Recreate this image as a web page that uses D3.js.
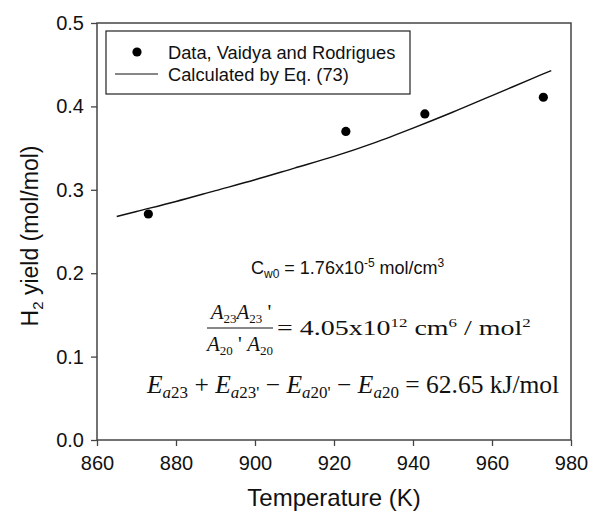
<!DOCTYPE html>
<html>
<head>
<meta charset="utf-8">
<script src="https://cdn.jsdelivr.net/npm/d3@7"></script>
<style>
  body { margin: 0; background: #fff; }
  svg text { fill: #111; }
</style>
</head>
<body>
<div id="vis"></div>
<script>
// measured data (Vaidya and Rodrigues)
const dataTemp = [873, 923, 943, 973];
const dataYield = [0.271, 0.370, 0.391, 0.411];

// calculated curve, Eq. (73)
const calcTemp = [865, 870, 880, 890, 900, 910, 920, 930, 940, 950, 960, 970, 975];
const calcYield = [0.268, 0.274, 0.286, 0.299, 0.312, 0.326, 0.340, 0.356, 0.374, 0.393, 0.413, 0.433, 0.443];

const xTicks = [860, 880, 900, 920, 940, 960, 980];
const yTicks = [0.0, 0.1, 0.2, 0.3, 0.4, 0.5];

const width = 590;
const height = 517;
const margin = { top: 23, right: 19, bottom: 77, left: 97 };

const sans = "Liberation Sans, Arial, sans-serif";
const serif = "Liberation Serif, Times New Roman, serif";

const svg = d3.select("#vis").append("svg")
  .attr("width", width)
  .attr("height", height);

const x = d3.scaleLinear().domain([860, 980]).range([margin.left, width - margin.right]);
const y = d3.scaleLinear().domain([0, 0.5]).range([height - margin.bottom, margin.top]);

const axisColour = "#444";

// frame
svg.append("rect")
  .attr("x", x(860))
  .attr("y", y(0.5))
  .attr("width", x(980) - x(860))
  .attr("height", y(0) - y(0.5))
  .attr("fill", "none")
  .attr("stroke", axisColour)
  .attr("stroke-width", 1.5);

// axes
const xAxis = svg.append("g")
  .attr("transform", `translate(0,${y(0)})`)
  .call(d3.axisBottom(x).tickValues(xTicks).tickSize(6).tickPadding(7).tickFormat(d3.format("d")));
const yAxis = svg.append("g")
  .attr("transform", `translate(${x(860)},0)`)
  .call(d3.axisLeft(y).tickValues(yTicks).tickSize(6).tickPadding(7).tickFormat(d3.format(".1f")));

[xAxis, yAxis].forEach(g => {
  g.select(".domain").remove();
  g.selectAll(".tick line").attr("stroke", axisColour).attr("stroke-width", 1.3);
  g.selectAll(".tick text")
    .style("font-family", sans)
    .style("font-size", "20px")
    .attr("fill", "#111");
});
xAxis.selectAll(".tick text").attr("dy", "0.85em");

// axis titles
svg.append("text")
  .attr("x", (x(860) + x(980)) / 2)
  .attr("y", 506)
  .attr("text-anchor", "middle")
  .style("font-family", sans)
  .style("font-size", "24px")
  .text("Temperature (K)");

const yTitle = svg.append("text")
  .attr("transform", `translate(38,236) rotate(-90)`)
  .attr("text-anchor", "middle")
  .style("font-family", sans)
  .style("font-size", "23px");
yTitle.append("tspan").text("H");
yTitle.append("tspan").attr("dy", 5).style("font-size", "15px").text("2");
yTitle.append("tspan").attr("dy", -5).text(" yield (mol/mol)");

// calculated line
const line = d3.line()
  .x((d, i) => x(calcTemp[i]))
  .y(d => y(d))
  .curve(d3.curveMonotoneX);

svg.append("path")
  .datum(calcYield)
  .attr("d", line)
  .attr("fill", "none")
  .attr("stroke", "#111")
  .attr("stroke-width", 1.4);

// data points
svg.selectAll(".pt")
  .data(dataYield)
  .enter()
  .append("circle")
  .attr("class", "pt")
  .attr("cx", (d, i) => x(dataTemp[i]))
  .attr("cy", d => y(d))
  .attr("r", 4.6)
  .attr("fill", "#000");

// legend
const legend = svg.append("g");
legend.append("rect")
  .attr("x", 106)
  .attr("y", 31)
  .attr("width", 304)
  .attr("height", 63)
  .attr("fill", "#fff")
  .attr("stroke", "#222")
  .attr("stroke-width", 1.2);
legend.append("circle").attr("cx", 137).attr("cy", 52).attr("r", 4.6).attr("fill", "#000");
legend.append("line")
  .attr("x1", 115).attr("x2", 158).attr("y1", 74).attr("y2", 74)
  .attr("stroke", "#111").attr("stroke-width", 1.2);
legend.append("text").attr("x", 168).attr("y", 58.5)
  .style("font-family", sans).style("font-size", "18.3px")
  .text("Data, Vaidya and Rodrigues");
legend.append("text").attr("x", 168).attr("y", 80.5)
  .style("font-family", sans).style("font-size", "18.3px")
  .text("Calculated by Eq. (73)");

// annotation: Cw0
const c = svg.append("text")
  .attr("x", 251).attr("y", 274)
  .style("font-family", sans)
  .style("font-size", "18px");
c.append("tspan").text("C");
c.append("tspan").attr("dy", 4).style("font-size", "12px").text("w0");
c.append("tspan").attr("dy", -4).text(" = 1.76x10");
c.append("tspan").attr("dy", -7).style("font-size", "12px").text("-5");
c.append("tspan").attr("dy", 7).text(" mol/cm");
c.append("tspan").attr("dy", -7).style("font-size", "12px").text("3");

// annotation: fraction
const num = svg.append("text").attr("x", 241).attr("y", 319).attr("text-anchor", "middle")
  .style("font-family", serif).style("font-size", "21px").style("font-style", "italic");
num.append("tspan").text("A");
num.append("tspan").attr("dy", 4).style("font-size", "13px").style("font-style", "normal").text("23");
num.append("tspan").attr("dy", -4).text("A");
num.append("tspan").attr("dy", 4).style("font-size", "13px").style("font-style", "normal").text("23");
num.append("tspan").attr("dy", -4).style("font-style", "normal").text(" '");

svg.append("line").attr("x1", 207).attr("x2", 273).attr("y1", 328).attr("y2", 328)
  .attr("stroke", "#111").attr("stroke-width", 1);

const den = svg.append("text").attr("x", 240).attr("y", 351).attr("text-anchor", "middle")
  .style("font-family", serif).style("font-size", "21px").style("font-style", "italic");
den.append("tspan").text("A");
den.append("tspan").attr("dy", 4).style("font-size", "13px").style("font-style", "normal").text("20");
den.append("tspan").attr("dy", -4).style("font-style", "normal").text(" ' ");
den.append("tspan").text("A");
den.append("tspan").attr("dy", 4).style("font-size", "13px").style("font-style", "normal").text("20");

// right-hand side is stretched sideways in the original
const rhs = svg.append("g").attr("transform", "translate(277,335) scale(1.3,1)")
  .append("text").attr("x", 0).attr("y", 0)
  .style("font-family", serif).style("font-size", "21.5px");
rhs.append("tspan").text("= 4.05x10");
rhs.append("tspan").attr("dy", -8).style("font-size", "13px").text("12");
rhs.append("tspan").attr("dy", 8).text(" cm");
rhs.append("tspan").attr("dy", -8).style("font-size", "13px").text("6");
rhs.append("tspan").attr("dy", 8).text(" / mol");
rhs.append("tspan").attr("dy", -8).style("font-size", "13px").text("2");

// annotation: activation energies
const eq = svg.append("text").attr("x", 147).attr("y", 393)
  .style("font-family", serif).style("font-size", "25.5px");
function eTerm(sub) {
  eq.append("tspan").style("font-style", "italic").text("E");
  eq.append("tspan").attr("dy", 5).style("font-size", "17px").style("font-style", "italic").text("a");
  eq.append("tspan").style("font-size", "17px").text(sub);
  eq.append("tspan").attr("dy", -5).text(" ");
}
eTerm("23");
eq.append("tspan").text("+ ");
eTerm("23'");
eq.append("tspan").text("\u2212 ");
eTerm("20'");
eq.append("tspan").text("\u2212 ");
eTerm("20");
eq.append("tspan").text("= 62.65 kJ/mol");
</script>
</body>
</html>
